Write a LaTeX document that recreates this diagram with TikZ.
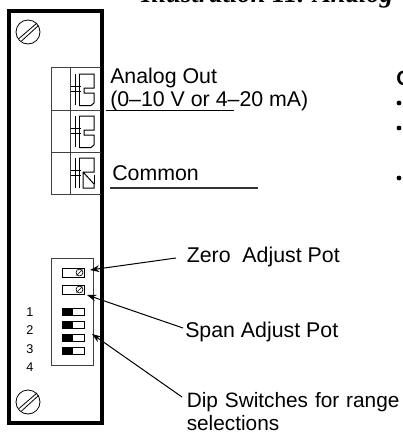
\documentclass[tikz,border=0pt]{standalone}
\usepackage{fontspec}
\setmainfont{Liberation Sans}
\newfontfamily\serifhead{Liberation Serif}
\usetikzlibrary{arrows.meta}
\tikzset{
 x=0.75pt,y=-0.75pt,
 thinln/.style={draw=black!75,line width=0.6pt},
 blk/.style={draw=black,line width=0.75pt},
 lead/.style={draw=black,line width=0.75pt,-{Stealth[length=7pt,width=5pt]}},
 lbl/.style={font=\fontsize{16pt}{17.25pt}\selectfont,anchor=base west,inner sep=0pt,align=left},
 num/.style={font=\fontsize{9.5pt}{10pt}\selectfont,anchor=base,inner sep=0pt},
 bul/.style={circle,fill=black,inner sep=0pt,minimum size=3.6pt},
}
\newcommand{\myscrew}[2]{%
 \begin{scope}[shift={(#1,#2)}]
  \draw[black,line width=0.6pt] (0,0) circle[radius=9pt];
  \draw[black,line width=0.6pt] (-9,6.5)--(9,-9) (-6.5,9)--(10.5,-6.5);
 \end{scope}}
\newcommand{\myterm}[1]{%
 \begin{scope}[shift={(0,#1)}]
  \draw[blk] (75,0)--(75,31) (79,0)--(79,31) (71,12)--(81,12) (71,17)--(81,17);
  \draw[blk] (79,0)--(94,0)--(94,14)--(84,14)--(84,19)--(94,19)--(94,29)--(91,31.5)--(79,31.5);
 \end{scope}}
\begin{document}
\begin{tikzpicture}
\useasboundingbox (0,0) rectangle (403,433);
\begin{scope}
\clip (0,0) rectangle (403,433);
\node[anchor=base west,inner sep=0pt,font=\serifhead\bfseries\itshape\fontsize{20pt}{22pt}\selectfont] (title) at (141,2) {Illustration 11. Analog};
\node[anchor=base west,inner sep=0pt,font=\bfseries\fontsize{15.5pt}{17pt}\selectfont] (ohead) at (396,85) {O};
\end{scope}
% panel
\draw[black,line width=2.6pt] (9,423)--(9,11)--(102,11)--(102,423)--cycle;
\myscrew{28}{32}
\myscrew{28}{402}
% terminal block
\draw[thinln] (51,67.5)--(101,67.5) (51,110)--(101,110) (51,152)--(101,152) (51,194)--(101,194);
\draw[thinln] (51,67.5)--(51,194) (70,67.5)--(70,194);
\myterm{74}
\myterm{116}
\begin{scope}[shift={(0,158)}]
 \draw[blk] (75,0)--(75,30) (79,0)--(79,30) (71,12)--(81,12) (71,17)--(81,17);
 \draw[blk] (79,0)--(94,0)--(94,14)--(83,14)--(83,30)--(94,30)--(94,26)--(83,14);
 \draw[blk] (94,17)--(94,26);
\end{scope}
% adjust block
\draw[thinln] (51,258) rectangle (93,365);
\coordinate (adjA) at (90,270);
\coordinate (adjB) at (87,295);
\coordinate (adjC) at (92,334);
% pots
\foreach \yy in {268,285}{
 \draw[blk] (62,\yy) rectangle (84,\yy+9);
 \draw[black,line width=0.5pt] (79.5,\yy+4.5) circle[radius=2.6pt];
 \draw[black,line width=0.5pt] (76.5,\yy+7.5)--(82.5,\yy+1.5);
}
% dips
\foreach \yy in {308,321,334,347}{
 \draw[blk] (62,\yy) rectangle (84,\yy+7);
 \fill[black] (62,\yy) rectangle (73,\yy+7);
}
\node[num] (n1) at (30,316) {1};
\node[num] (n2) at (30,334) {2};
\node[num] (n3) at (30,353) {3};
\node[num] (n4) at (30,371) {4};
% labels
\node[lbl] (aout) at (110,83) {Analog Out};
\node[lbl] (arng) at (110,106) {(0--10 V or 4--20 mA)};
\node[lbl] (comm) at (112,180) {Common};
\coordinate (u1a) at (106,110); \coordinate (u1b) at (234,110);
\coordinate (u2a) at (110,188); \coordinate (u2b) at (258,188);
\draw[blk] (u1a)--(u1b);
\draw[black!80,line width=0.9pt] (u2a)--(u2b);
\node[lbl] (zero) at (186.5,262) {Zero\ \ Adjust Pot};
\node[lbl] (span) at (185,337) {Span Adjust Pot};
\node[lbl,text width=225pt,font=\fontsize{15.6pt}{17.25pt}\selectfont] (dip) at (186.5,407) {Dip Switches for range\\selections};
\coordinate (zs) at (176,258); \coordinate (ss) at (183,328); \coordinate (ds) at (182,397);
\draw[lead] (zs)--(adjA);
\draw[lead] (ss)--(adjB);
\draw[lead] (ds)--(adjC);
% bullets
\node[bul] (b1) at (399,103) {};
\node[bul] (b2) at (399,128) {};
\node[bul] (b3) at (399,178) {};
\end{tikzpicture}
\end{document}
